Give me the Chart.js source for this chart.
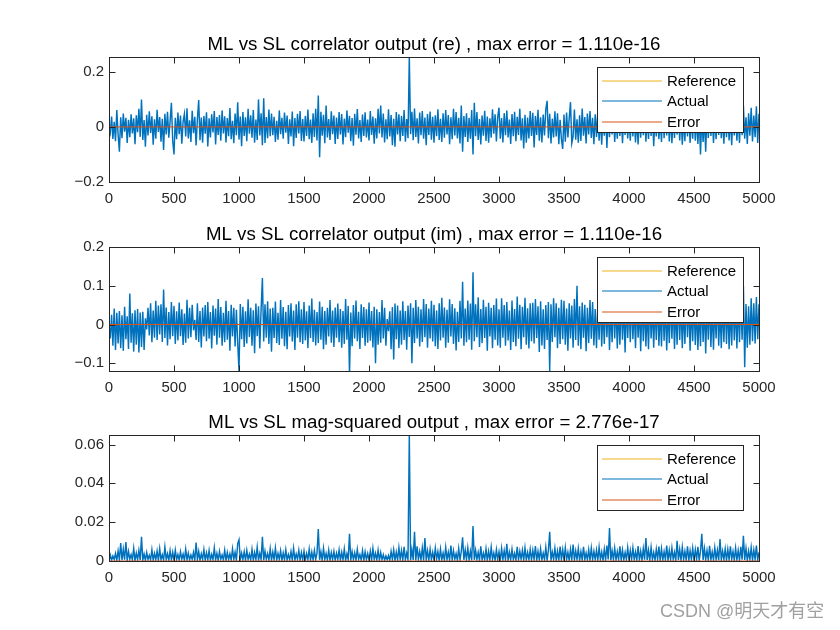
<!DOCTYPE html>
<html>
<head>
<meta charset="utf-8">
<script src="https://cdn.jsdelivr.net/npm/chart.js@4.4.1/dist/chart.umd.min.js"></script>
<style>
  html, body { margin: 0; padding: 0; background: #ffffff; }
  #wrap { position: relative; width: 840px; height: 630px; background: #ffffff; }
  canvas { position: absolute; left: 0; top: 0; }
</style>
</head>
<body>
<div id="wrap">
  <canvas id="c1" width="840" height="630"></canvas>
  <canvas id="c2" width="840" height="630"></canvas>
  <canvas id="c3" width="840" height="630"></canvas>
</div>
<script>
// ---------------- DATA ----------------
const sampleStep = 10; // spacing of the read-off samples along the x axis

const xTickVals = [0, 500, 1000, 1500, 2000, 2500, 3000, 3500, 4000, 4500, 5000];
const xTickLabels = ['0', '500', '1000', '1500', '2000', '2500', '3000', '3500', '4000', '4500', '5000'];

const titles = [
  'ML vs SL correlator output (re) , max error = 1.110e-16',
  'ML vs SL correlator output (im) , max error = 1.110e-16',
  'ML vs SL mag-squared output , max error = 2.776e-17'
];
const legendLabels = ['Reference', 'Actual', 'Error'];

const yTickValsRe = [-0.2, 0, 0.2];
const yTickLabelsRe = ['\u22120.2', '0', '0.2'];
const yTickValsIm = [-0.1, 0, 0.1, 0.2];
const yTickLabelsIm = ['\u22120.1', '0', '0.1', '0.2'];
const yTickValsMag = [0, 0.02, 0.04, 0.06];
const yTickLabelsMag = ['0', '0.02', '0.04', '0.06'];

// correlator output, real part (Actual; Reference coincides with it)
const actualRe = [
 .002,-.021,.038,-.044,.019,-.052,.061,-.028,-.09,.035,-.041,.049,-.017,.033,-.058,.026,-.037,.046,-.024,.031,-.063,.042,-.019,.066,-.036,
 .1,-.047,.025,-.072,.044,-.031,.057,-.022,.039,-.065,.028,-.043,.062,-.018,.036,-.054,.03,-.084,.048,-.027,.055,-.039,.021,.088,-.05,
 -.1,.033,-.045,.052,-.026,.041,-.061,.019,.047,-.035,.068,-.042,.024,-.055,.059,-.023,.037,-.067,.029,.098,-.048,.034,-.057,.04,-.025,
 .053,-.071,.031,-.038,.046,-.02,.058,-.064,.036,-.029,.043,-.05,.06,-.024,.039,-.056,.032,-.034,.069,-.045,.022,-.059,.049,-.03,.09,
 -.046,.038,-.07,.054,-.033,.035,-.052,.066,-.025,.042,-.039,.061,-.057,.027,-.047,.1,-.031,.05,-.066,.104,-.058,.036,-.041,.063,-.034,
 .049,-.03,.037,-.055,.022,-.046,.06,-.026,.033,-.043,.052,-.021,.041,-.062,.028,-.035,.056,-.07,.032,-.04,.048,-.024,.058,-.051,.029,
 -.053,.04,-.033,.063,-.045,.027,-.058,.05,-.036,.066,-.049,.114,-.11,.055,-.032,.044,-.059,.078,-.038,.029,-.047,.057,-.026,.041,-.062,
 .034,-.044,.054,-.027,.047,-.064,.03,-.037,.06,-.021,.04,-.052,.032,-.068,.048,-.028,.065,-.042,.025,-.055,.045,-.033,.053,-.038,.027,
 -.049,.058,-.029,.038,-.061,.031,-.042,.066,-.024,.078,-.038,.049,-.056,.028,-.045,.064,-.035,.043,-.066,.03,-.072,.054,-.027,.046,-.052,
 .04,-.033,.061,-.054,.029,-.041,.255,-.026,.055,-.048,.067,-.036,.031,-.06,.052,-.03,.058,-.043,.034,-.066,.047,-.029,.056,-.046,.037,
 -.057,.042,-.034,.064,-.047,.03,-.055,.05,-.039,.061,-.027,.043,-.063,.035,-.045,.066,-.031,.054,-.042,.033,-.06,.078,-.09,.04,-.036,
 .05,-.055,.033,-.043,.061,-.1,.088,-.034,.054,-.047,.029,-.064,.041,-.032,.059,-.051,.038,-.057,.031,-.039,.064,-.025,.046,-.053,.035,
 .07,-.043,.032,-.056,.05,-.03,.06,-.038,.027,-.062,.047,-.034,.055,-.052,.037,-.029,.066,-.049,.031,-.078,.044,-.057,.034,-.042,.058,
 -.033,.051,-.075,.04,-.029,.062,-.05,.035,-.056,.045,-.031,.064,.095,-.041,.048,-.06,.03,-.038,.057,-.035,.05,-.063,.026,-.044,-.08,
 .045,-.054,.052,-.038,.031,.09,-.059,-.034,.063,-.046,.028,-.057,.042,-.051,.067,-.032,.036,-.06,.049,-.027,.058,-.04,.033,-.063,.046,
 -.036,.057,-.05,.03,-.065,.041,-.032,.053,-.076,.044,-.037,.062,-.027,.049,-.055,.034,-.043,.066,-.033,.051,-.059,.039,-.029,.056,-.042,
 .031,-.05,.061,-.035,.045,-.056,.027,-.064,.05,-.039,.068,-.03,.043,-.054,.035,-.044,.06,-.033,.055,-.07,.04,-.035,.064,-.045,.029,
 -.055,.078,-.041,.05,-.031,.061,-.053,.037,-.059,.032,-.04,.066,-.028,.055,-.049,.041,-.065,.03,-.052,.073,-.035,.047,-.058,.034,-.043,
 .057,-.05,.032,-.062,.043,-.1,.037,-.055,.03,-.09,.05,-.04,.065,-.033,.046,-.058,.036,-.045,.068,-.029,.054,-.041,.031,-.061,.051,
 -.037,.059,-.049,.034,-.066,.046,-.031,.055,-.05,.04,-.058,.063,-.03,.078,-.043,.035,-.062,.05,-.032,.07,-.053,.041,-.037,.075,-.058,
 .048
];

// correlator output, imaginary part
const actualIm = [
 .002,-.036,.025,-.055,.041,-.066,.03,-.049,.035,-.061,.024,-.068,.046,-.038,.021,-.063,.08,-.047,.029,-.07,.037,-.052,.04,-.072,.031,
 -.058,.033,-.066,.016,-.013,.043,-.028,.055,-.046,.036,-.034,.061,-.04,.049,-.026,.052,-.045,.09,-.035,.044,-.054,.032,-.038,.058,-.03,
 .048,-.05,.034,-.041,.057,-.03,.039,-.053,.028,-.047,.064,-.036,.043,-.033,.051,-.015,.012,-.04,.055,-.045,.035,-.059,.044,-.031,.05,
 -.043,.058,-.037,.032,-.062,.049,-.029,.041,-.052,.066,-.034,.045,-.055,.03,-.046,.061,-.039,.035,-.068,.051,-.031,.043,-.057,.038,-.047,
 -.12,.053,-.038,.046,-.058,.034,-.049,.065,-.032,.043,-.055,.037,-.074,.054,-.03,.047,-.062,.039,.12,-.044,.052,-.034,.06,-.05,.041,
 -.07,.043,-.035,.059,-.048,.03,-.053,.063,-.037,.045,-.056,.033,-.064,.05,-.031,.055,-.044,.036,-.066,.052,-.034,.06,-.046,.039,-.05,
 .058,-.041,.034,-.061,.049,-.035,.067,-.045,.038,-.054,.032,-.048,.059,-.039,.046,-.064,.035,-.052,.043,-.031,.063,-.047,.036,-.058,.044,
 -.034,.054,-.046,.04,-.06,.035,-.05,.066,-.039,.048,-.13,.031,-.056,.05,-.036,.062,-.043,.033,-.063,.052,-.035,.045,-.055,.039,-.047,
 .057,-.042,.035,-.059,.046,-.1,.039,-.052,.032,-.047,.063,-.036,.043,-.055,.014,-.017,.034,-.064,.045,-.09,.054,-.038,.049,-.061,.036,
 -.052,.06,-.04,.035,-.065,.049,-.032,.055,-.1,.043,-.048,.063,-.036,.046,-.057,.039,-.045,.066,-.033,.053,-.06,.041,-.036,.061,-.044,
 .051,-.056,.036,-.063,.055,-.041,.069,-.034,.044,-.06,.038,-.047,.065,-.031,.053,-.05,.042,-.067,.033,-.045,.061,-.036,.11,-.055,.041,
 -.046,.062,-.039,.054,-.065,.135,-.043,.052,-.033,.07,-.058,.04,-.048,.064,-.035,.046,-.068,.056,-.031,.043,-.061,.05,-.039,.067,-.054,
 .039,-.06,.068,-.034,.05,-.055,.058,-.041,.036,-.066,.062,-.045,.04,-.056,.072,-.037,.051,-.064,.046,-.033,.069,-.052,.042,-.062,.055,
 -.043,.056,-.049,.066,-.035,.047,-.071,.06,-.054,.039,-.063,.05,-.04,.058,-.12,.052,-.045,.068,-.033,.055,-.061,.043,-.05,.064,-.038,
 .061,-.052,.041,-.068,.055,-.036,.049,-.06,.066,-.04,.1,-.055,.047,-.064,.057,-.034,.051,-.069,.043,-.048,.063,-.037,.058,-.054,.04,
 -.061,.05,-.039,.067,-.057,.045,-.05,.06,-.033,.054,-.066,.042,-.046,.07,-.036,.056,-.062,.044,-.052,.065,-.039,.05,-.072,.059,-.035,
 .055,-.046,.066,-.038,.05,-.061,.057,-.034,.045,-.069,.062,-.043,.053,-.057,.042,-.064,.068,-.036,.048,-.06,.052,-.04,.064,-.055,.039,
 -.057,.065,-.042,.052,-.067,.044,-.048,.062,-.037,.056,-.063,.047,-.052,.071,-.04,.055,-.061,.046,-.05,.066,-.033,.058,-.068,.051,-.043,
 .059,-.053,.048,-.066,.041,-.056,.067,-.045,.052,-.075,.055,-.039,.062,-.058,.044,-.065,.05,-.036,.069,-.055,.042,-.061,.054,-.046,.064,
 -.05,.057,-.064,.045,-.054,.067,-.041,.05,-.062,.056,-.046,.066,-.039,.1,-.11,.053,-.06,.047,-.052,.068,-.043,.055,-.049,.071,-.038,
 .052
];

// mag-squared output
const actualMag = [
 .0001,.0031,.0005,.0026,.0008,.0039,.0003,.0052,.0006,.0092,.0004,.0061,.0007,.0098,.0003,.0049,.0009,.0033,.0005,.0066,.0002,.0041,.0007,.0055,.0004,
 .0125,.0005,.0036,.0003,.0044,.0008,.0029,.0005,.0058,.0003,.0039,.0007,.0051,.0002,.0063,.0006,.0032,.0004,.0072,.0008,.0037,.0003,.0053,.0005,.0045,
 .0003,.0056,.0007,.0033,.0004,.0048,.0009,.0036,.0003,.0061,.0006,.0041,.0005,.0031,.0008,.0045,.0002,.0095,.0005,.0049,.0003,.0037,.0008,.0059,.0004,
 .0042,.0006,.0054,.0003,.0034,.0007,.0068,.0005,.0039,.0003,.0049,.0009,.0031,.0005,.0056,.0002,.0044,.0007,.0037,.0004,.0062,.0008,.0046,.0003,.009,
 .011,.0005,.0041,.0007,.0048,.0003,.0055,.0008,.0035,.0005,.006,.0003,.0044,.0007,.0071,.0004,.004,.0006,.0125,.0003,.0051,.0009,.0038,.0005,.0063,
 .0003,.0046,.0007,.0067,.0004,.0039,.0008,.0053,.0002,.0042,.0006,.0058,.0005,.0033,.0007,.0049,.0003,.0066,.0005,.0036,.0009,.0055,.0003,.0044,.0006,
 .0051,.0004,.0038,.0007,.0061,.0003,.0046,.0005,.0054,.0008,.0041,.0165,.0006,.0048,.0003,.0065,.0007,.0039,.0005,.0056,.0002,.0044,.0007,.005,.0004,
 .004,.0008,.0057,.0003,.0045,.0006,.0063,.0003,.0037,.0007,.014,.0005,.0048,.0007,.0042,.0004,.006,.0009,.0033,.0005,.0053,.0003,.0047,.0007,.0038,
 .0005,.0051,.0003,.0065,.0008,.004,.0005,.0056,.0003,.0044,.0007,.0032,.0004,.0026,.0006,.0029,.0003,.005,.0007,.0058,.0003,.0046,.0005,.0069,.0008,
 .0054,.0004,.0073,.0006,.0041,.0007,.0648,.0003,.0058,.0005,.015,.0003,.0076,.0008,.0049,.0005,.0067,.0002,.0118,.0006,.0053,.0004,.0061,.0007,.0045,
 .0005,.0066,.0008,.0048,.0003,.0061,.0006,.0041,.0003,.007,.0007,.0046,.0004,.0079,.0005,.0053,.0009,.0038,.0003,.0064,.0006,.0049,.0122,.0005,.0057,
 .0007,.0068,.0004,.0051,.0003,.018,.0006,.0055,.0008,.0045,.0003,.0076,.0005,.004,.0007,.0063,.0003,.005,.0005,.0071,.0008,.0042,.0004,.0059,.0006,
 .0048,.0003,.0065,.0007,.0053,.0005,.0088,.0003,.0045,.0006,.0061,.0008,.0039,.0004,.0073,.0005,.005,.0009,.0056,.0003,.0068,.0006,.0044,.0007,.006,
 .0004,.0055,.0008,.0077,.0003,.0049,.0006,.0063,.0005,.0041,.0007,.007,.0003,.0054,.015,.0005,.0046,.0008,.0066,.0004,.0051,.0003,.0074,.0007,.0058,
 .0005,.0069,.0007,.0045,.0003,.006,.0006,.0085,.0004,.0052,.0008,.0065,.0003,.0048,.0005,.0073,.0007,.0042,.0005,.0058,.0003,.0067,.0006,.005,.0008,
 .0056,.0004,.0071,.0007,.0046,.0003,.0061,.0005,.0079,.0008,.017,.0003,.0053,.0006,.0066,.0005,.0048,.0007,.0075,.0003,.0057,.0005,.0044,.0008,.0069,
 .0003,.0054,.0006,.0068,.0008,.0047,.0004,.0077,.0005,.0051,.0003,.0064,.0007,.0118,.0005,.0056,.0003,.007,.0007,.0044,.0004,.0061,.0008,.0074,.0003,
 .0063,.0005,.0048,.0007,.0079,.0003,.0055,.0006,.0067,.0008,.0045,.0004,.0104,.0005,.0059,.0003,.0071,.0007,.005,.0005,.0075,.0003,.0053,.0007,.0066,
 .0004,.0058,.0008,.0073,.0003,.005,.014,.0005,.0065,.0007,.0054,.0003,.0078,.0006,.0047,.0005,.0069,.0008,.0056,.0003,.0113,.0005,.0051,.0007,.0063,
 .0003,.006,.0006,.0076,.0008,.0049,.0004,.0067,.0005,.0054,.0003,.0073,.0007,.013,.0005,.0065,.0003,.0051,.0007,.007,.0004,.0057,.0008,.0079,.0005,
 .0045
];

// Reference equals Actual to within ~1e-16 (fully covered by Actual in the figure)
const referenceRe = actualRe;
const referenceIm = actualIm;
const referenceMag = actualMag;

// Error (order of 1e-16, i.e. zero at this scale)
const errorX = [0, 5000];
const errorRe = [0, 0];
const errorIm = [0, 0];
const errorMag = [0, 0];

// ---------------- STYLE / LAYOUT ----------------
const FONT = '"Liberation Sans", Arial, Helvetica, sans-serif';
const COL_REF = '#EDB120', COL_ACT = '#0072BD', COL_ERR = '#D95319';
const AXIS_COL = '#262626';

Chart.defaults.font.family = FONT;
Chart.defaults.color = AXIS_COL;

function toPoints(vals) { return vals.map((v, i) => ({ x: i * sampleStep, y: v })); }
function toPointsXY(xs, ys) { return xs.map((x, i) => ({ x: x, y: ys[i] })); }

const framePlugin = {
  id: 'matlabFrame',
  afterDraw(chart) {
    const o = chart.options.plugins.matlabFrame;
    const ctx = chart.ctx;
    const a = chart.chartArea;
    const L = Math.round(a.left), R = Math.round(a.right), T = Math.round(a.top), B = Math.round(a.bottom);
    const xs = chart.scales.x, ys = chart.scales.y;
    const tl = 6;
    ctx.save();
    ctx.setLineDash([]);
    ctx.strokeStyle = AXIS_COL;
    ctx.lineWidth = 1;
    ctx.strokeRect(L + 0.5, T + 0.5, R - L, B - T);
    ctx.beginPath();
    xTickVals.forEach(v => {
      const px = Math.round(xs.getPixelForValue(v)) + 0.5;
      ctx.moveTo(px, B + 0.5); ctx.lineTo(px, B + 0.5 - tl);
      ctx.moveTo(px, T + 0.5); ctx.lineTo(px, T + 0.5 + tl);
    });
    o.yTicks.forEach(v => {
      const py = Math.round(ys.getPixelForValue(v)) + 0.5;
      ctx.moveTo(L + 0.5, py); ctx.lineTo(L + 0.5 + tl, py);
      ctx.moveTo(R + 0.5, py); ctx.lineTo(R + 0.5 - tl, py);
    });
    ctx.stroke();
    // title
    ctx.fillStyle = '#000000';
    ctx.font = '18.7px ' + FONT;
    ctx.textAlign = 'center';
    ctx.textBaseline = 'alphabetic';
    ctx.fillText(o.title, (a.left + a.right) / 2, a.top - 7);
    // legend
    const bx = R - 162, by = T + 10, bw = 147, bh = 66;
    ctx.fillStyle = '#ffffff';
    ctx.fillRect(bx, by, bw, bh);
    ctx.strokeStyle = AXIS_COL;
    ctx.strokeRect(bx + 0.5, by + 0.5, bw - 1, bh - 1);
    const cols = [COL_REF, COL_ACT, COL_ERR];
    ctx.font = '15px ' + FONT;
    ctx.textAlign = 'left';
    legendLabels.forEach((lab, k) => {
      const ry = Math.round(by + 13.5 + k * 20.5);
      ctx.strokeStyle = cols[k];
      ctx.lineWidth = 1.2;
      ctx.beginPath();
      ctx.moveTo(bx + 5, ry);
      ctx.lineTo(bx + 65, ry);
      ctx.stroke();
      ctx.fillStyle = '#000000';
      ctx.fillText(lab, bx + 70, ry + 5.4);
    });
    if (o.watermark) {
      ctx.fillStyle = '#a0a0a0';
      ctx.font = '18px "Liberation Sans", "Noto Sans CJK SC", sans-serif';
      ctx.textAlign = 'left';
      ctx.fillText(o.watermark, 660, 617);
    }
    ctx.restore();
  }
};

function makePanel(id, cfg) {
  const ctx = document.getElementById(id).getContext('2d');
  return new Chart(ctx, {
    type: 'line',
    data: {
      datasets: [
        { label: 'Error', data: toPointsXY(errorX, cfg.err), borderColor: COL_ERR, borderWidth: 1, pointRadius: 0, order: 0 },
        // a dash pattern with no gap keeps the line solid while making Chart.js stroke every sample
        { label: 'Actual', data: toPoints(cfg.act), borderColor: COL_ACT, borderWidth: 1.45, borderDash: [100000, 0], pointRadius: 0, order: 1 },
        // Reference lies exactly under Actual; kept in the chart but not stroked separately
        { label: 'Reference', data: toPoints(cfg.ref), borderColor: COL_REF, borderWidth: 1, pointRadius: 0, order: 2, hidden: true }
      ]
    },
    options: {
      responsive: false,
      animation: false,
      devicePixelRatio: 1,
      parsing: false,
      normalized: true,
      elements: { line: { tension: 0, borderJoinStyle: 'miter' } },
      layout: { padding: { left: 0, right: 81, top: cfg.top, bottom: 630 - cfg.bottom - 30 } },
      plugins: {
        legend: { display: false },
        tooltip: { enabled: false },
        title: { display: false },
        matlabFrame: { title: cfg.title, yTicks: cfg.yTicks, watermark: cfg.watermark }
      },
      scales: {
        x: {
          type: 'linear', min: 0, max: 5000,
          afterBuildTicks: s => { s.ticks = xTickVals.map(v => ({ value: v })); },
          afterFit: s => { s.height = 30; },
          ticks: { callback: (v, i) => xTickLabels[i], font: { size: 15, family: FONT }, color: AXIS_COL, padding: 8, maxRotation: 0, minRotation: 0, autoSkip: false },
          grid: { display: false, drawTicks: false },
          border: { display: false }
        },
        y: {
          type: 'linear', min: cfg.yMin, max: cfg.yMax,
          afterBuildTicks: s => { s.ticks = cfg.yTicks.map(v => ({ value: v })); },
          afterFit: s => { s.width = 109; },
          ticks: { callback: (v, i) => cfg.yLabels[i], font: { size: 15, family: FONT }, color: AXIS_COL, padding: 5, autoSkip: false },
          grid: { display: false, drawTicks: false },
          border: { display: false }
        }
      }
    },
    plugins: [framePlugin]
  });
}

makePanel('c1', { act: actualRe, ref: referenceRe, err: errorRe, title: titles[0],
  yMin: -0.2, yMax: 0.254, yTicks: yTickValsRe, yLabels: yTickLabelsRe, top: 57, bottom: 182 });
makePanel('c2', { act: actualIm, ref: referenceIm, err: errorIm, title: titles[1],
  yMin: -0.12, yMax: 0.2, yTicks: yTickValsIm, yLabels: yTickLabelsIm, top: 247, bottom: 371 });
makePanel('c3', { act: actualMag, ref: referenceMag, err: errorMag, title: titles[2],
  yMin: 0, yMax: 0.0649, yTicks: yTickValsMag, yLabels: yTickLabelsMag, top: 435, bottom: 561,
  watermark: 'CSDN @明天才有空' });
</script>
</body>
</html>
